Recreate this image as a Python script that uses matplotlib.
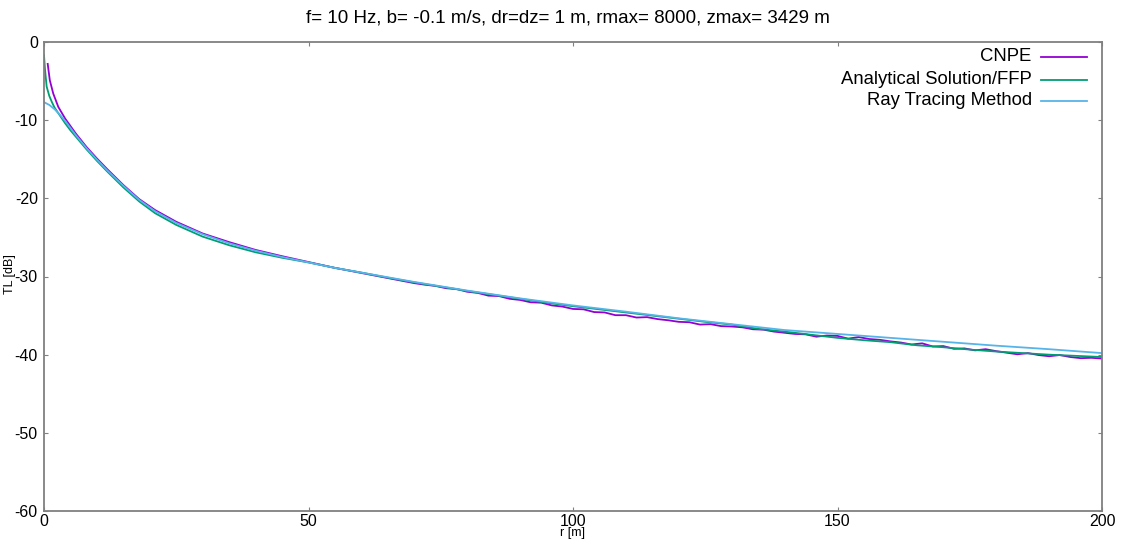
import matplotlib.pyplot as plt

# transmission loss vs range, three methods
r_cnpe = [0.7, 1.1, 1.75, 2.7, 4, 6, 8, 10, 12, 15, 18, 21, 25, 30, 35, 40, 45, 50, 55, 60, 65,
          70, 72, 74, 76, 78, 80, 82, 84, 86, 88, 90, 92, 94, 96, 98, 100, 102, 104, 106, 108,
          110, 112, 114, 116, 118, 120, 122, 124, 126, 128, 130, 132, 134, 136, 138, 140, 142,
          144, 146, 148, 150, 152, 154, 156, 158, 160, 162, 164, 166, 168, 170, 172, 174, 176,
          178, 180, 182, 184, 186, 188, 190, 192, 194, 196, 198, 200]
tl_cnpe = [-2.8, -4.9, -6.6, -8.3, -9.8, -11.7, -13.4, -14.9, -16.3, -18.3, -20.1, -21.5, -23.0,
           -24.5, -25.6, -26.6, -27.4, -28.15, -28.9, -29.55, -30.2,
           -30.85, -31.05, -31.2, -31.5, -31.6, -31.95, -32.1, -32.45, -32.5, -32.85, -33.0,
           -33.3, -33.35, -33.7, -33.85, -34.15, -34.2, -34.55, -34.6, -34.95, -34.95, -35.25,
           -35.2, -35.45, -35.6, -35.8, -35.85, -36.15, -36.1, -36.35, -36.4, -36.5, -36.75,
           -36.8, -37.05, -37.2, -37.35, -37.4, -37.7, -37.55, -37.6, -37.95, -37.75, -38.0,
           -38.1, -38.3, -38.45, -38.7, -38.55, -38.95, -38.9, -39.25, -39.2, -39.45, -39.3,
           -39.55, -39.75, -39.95, -39.8, -40.05, -40.2, -40.05, -40.3, -40.45, -40.4, -40.5]

r_ffp = [0, 0.2, 0.5, 1, 1.5, 2, 3, 4, 5, 6, 8, 10, 12, 15, 18, 21, 25, 30, 35, 40, 45, 50, 55,
         60, 65, 70, 75, 80, 85, 90, 95, 100, 105, 110, 115, 120, 125, 130, 135, 140, 145, 150,
         155, 160, 165, 170, 175, 180, 185, 190, 195, 200]
tl_ffp = [-1.7, -3.6, -5.7, -6.9, -7.7, -8.4, -9.4, -10.4, -11.3, -12.1, -13.7, -15.2, -16.6,
          -18.6, -20.4, -21.9, -23.4, -24.9, -26.0, -26.9, -27.6, -28.2, -28.9, -29.5, -30.15,
          -30.75, -31.3, -31.85, -32.35, -32.85, -33.35, -33.8, -34.2, -34.6, -35.0, -35.4,
          -35.8, -36.15, -36.7, -37.05, -37.45, -37.85, -38.15, -38.4, -38.8, -39.05, -39.35,
          -39.6, -39.8, -40.0, -40.15, -40.3]

r_ray = [0, 1, 2, 3, 4, 5, 6, 8, 10, 12, 15, 18, 21, 25, 30, 35, 40, 45, 50, 55, 60, 65, 70,
         80, 90, 100, 110, 120, 130, 140, 150, 160, 170, 180, 190, 200]
tl_ray = [-7.7, -8.05, -8.6, -9.3, -10.1, -11.0, -11.9, -13.55, -15.05, -16.45, -18.4, -20.2,
          -21.65, -23.15, -24.6, -25.75, -26.7, -27.5, -28.2, -28.9, -29.5, -30.1, -30.7,
          -31.8, -32.8, -33.7, -34.5, -35.35, -36.1, -36.85, -37.35, -37.85, -38.35, -38.85,
          -39.3, -39.8]

labels = ["CNPE", "Analytical Solution/FFP", "Ray Tracing Method"]
colors = ["#9400d3", "#009e73", "#56b4e9"]

plt.rcParams['font.family'] = ['Liberation Sans', 'DejaVu Sans']
plt.rcParams['axes.unicode_minus'] = False

fig = plt.figure(figsize=(11.23, 5.44), dpi=100)
ax = fig.add_axes([44 / 1123, 1 - 511 / 544, 1058 / 1123, 469 / 544])

ax.plot(r_cnpe, tl_cnpe, color=colors[0], lw=1.3)
ax.plot(r_ffp, tl_ffp, color=colors[1], lw=1.3)
ax.plot(r_ray, tl_ray, color=colors[2], lw=1.3)

ax.set_xlim(0, 200)
ax.set_ylim(-60, 0)
ax.set_xticks([0, 50, 100, 150, 200])
ax.set_yticks([0, -10, -20, -30, -40, -50, -60])

for s in ax.spines.values():
    s.set_color("#808080")
    s.set_linewidth(1.3)
ax.tick_params(direction="in", length=3, width=0.8, color="#808080", labelsize=11.5,
               top=True, right=True, pad=2)
ax.tick_params(axis="y", pad=4.5)

ax.set_xlabel("r [m]", fontsize=9, labelpad=-1)
ax.set_ylabel("TL [dB]", fontsize=9)
ax.yaxis.set_label_coords(-28 / 1058, 0.505)

fig.suptitle("f= 10 Hz, b= -0.1 m/s, dr=dz= 1 m, rmax= 8000, zmax= 3429 m",
             fontsize=13.5, x=568 / 1123, y=1 - 18 / 544, va="center")

# key drawn in the gnuplot style: right-aligned text, sample line after it
ys = [0.969, 0.920, 0.875]
for lab, c, y in zip(labels, colors, ys):
    ax.text(0.9335, y, lab, transform=ax.transAxes, ha="right", va="center", fontsize=13.3)
    ax.plot([0.9425, 0.9855], [y, y], color=c, lw=1.3, transform=ax.transAxes)

fig.savefig("out.png", dpi=100)
